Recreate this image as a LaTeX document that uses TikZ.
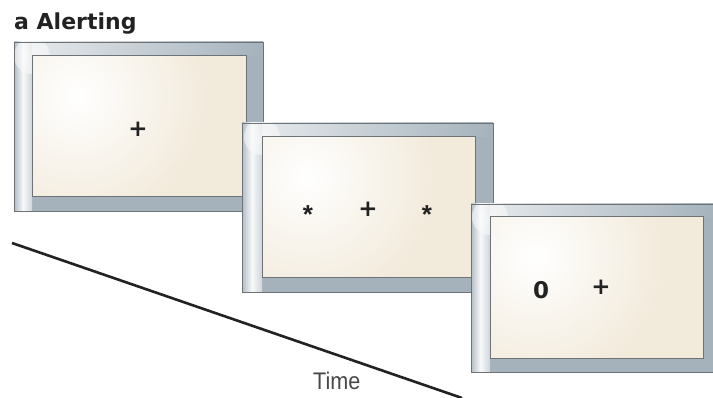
\documentclass[tikz,border=0pt]{standalone}
\usepackage{fontspec}
\setmainfont{DejaVu Sans}
\newfontfamily\timefont{Liberation Sans}
\newfontfamily\starfont{Liberation Sans}
\usetikzlibrary{calc}
\definecolor{framegray}{HTML}{A5B2BC}
\definecolor{cream}{HTML}{F2EADB}
\definecolor{edgegray}{HTML}{6E7378}
\definecolor{inkdark}{HTML}{222222}
\newcommand\myscreen[8]{%
  \fill[framegray] (#1,#2) rectangle (#3,#4);
  \shade[left color=framegray!85!white, right color=framegray!55!white, middle color=white!92!framegray] (#1,#2) rectangle (#5,#4);
  \shade[left color=white!70!framegray, right color=framegray] (#5,#2) rectangle (#3,#6);
  \begin{scope}
    \clip (#1,#2) rectangle (#3,#4);
    \shade[inner color=white, outer color=white!92!framegray, opacity=0.6] (#5,#6) circle (18);
  \end{scope}
  \draw[edgegray, line width=0.8pt] (#1,#2) rectangle (#3,#4);
  \fill[cream] (#5,#6) rectangle (#7,#8);
  \begin{scope}
    \clip (#5,#6) rectangle (#7,#8);
    \shade[inner color=white, outer color=cream] ($(#5,#6)+(45,40)$) circle (130);
  \end{scope}
  \draw[edgegray, line width=1pt] (#5,#6) rectangle (#7,#8);
}
\begin{document}
\begin{tikzpicture}[x=1pt, y=-1pt,
  sym/.style={font=\bfseries\fontsize{23}{23}\selectfont, text=inkdark, inner sep=0pt, anchor=center},
  star/.style={font=\starfont\bfseries\fontsize{26}{26}\selectfont, text=inkdark, inner sep=0pt, anchor=center, yshift=-5.5pt},
  title/.style={font=\bfseries\fontsize{22}{22}\selectfont, text=inkdark, inner sep=0pt, anchor=base west},
  timelabel/.style={font=\timefont\fontsize{24}{24}\selectfont, text=black!72, inner sep=0pt, anchor=base west, xscale=0.9}]
  \useasboundingbox (0,0) rectangle (713,398);
  \fill[white] (0,0) rectangle (713,398);
  \node[title] (ttl) at (14,30) {a Alerting};
  % time axis
  \coordinate (t0) at (12,243);
  \coordinate (t1) at (462,398);
  \draw[inkdark, line width=2.6pt] (t0) -- (t1);
  \node[timelabel] (time) at (313,389) {Time};
  % screens
  \myscreen{14}{42}{263}{211}{32}{56}{246}{197}
  \node[sym] (p1) at (138,129) {+};
  \myscreen{242}{123}{493}{292}{262}{137}{475}{278}
  \node[star] (s1) at (308,209) {*};
  \node[sym] (p2) at (368,209) {+};
  \node[star] (s2) at (427,209) {*};
  \myscreen{471}{204}{716}{372}{490}{217}{703}{359}
  \node[sym] (zero) at (541,290) {0};
  \node[sym] (p3) at (601,287) {+};
\end{tikzpicture}
\end{document}
